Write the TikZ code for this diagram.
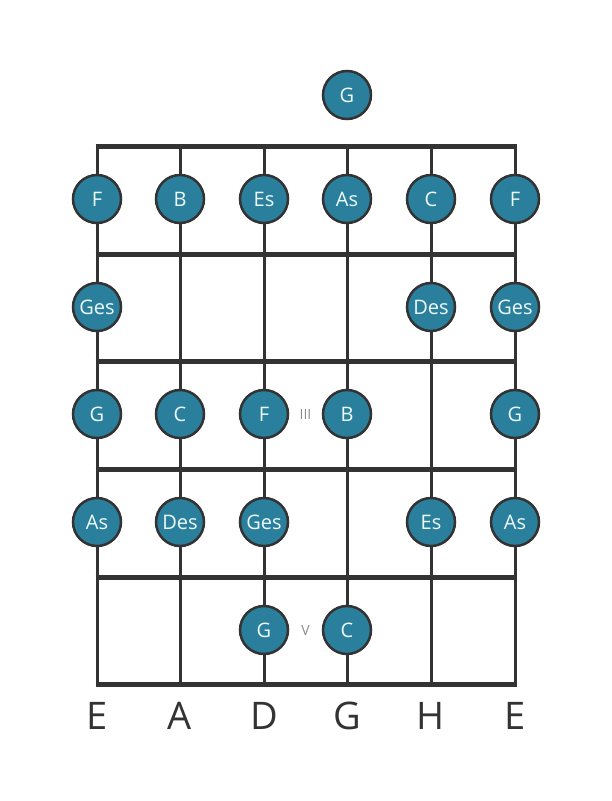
\documentclass[tikz,border=0pt]{standalone}
\usepackage{fontspec}
\setmainfont{Open Sans}
\definecolor{dotc}{HTML}{2A809C}
\definecolor{linec}{HTML}{333333}
\definecolor{notetext}{HTML}{EEFAFC}
\begin{document}
\begin{tikzpicture}[x=1pt,y=-1pt,
  note/.style={circle,draw=linec,line width=2.5pt,fill=dotc,minimum size=48pt,inner sep=0pt,text=notetext,font=\fontsize{20}{20}\selectfont},
  fretl/.style={draw=linec,line width=5pt},
  strl/.style={draw=linec,line width=3pt},
  strname/.style={text=linec,font=\fontsize{38}{38}\selectfont,inner sep=0pt},
  fingerl/.style={text=gray!90,font=\fontsize{14}{14}\selectfont,inner sep=0pt}]
\useasboundingbox (0,0) rectangle (611,801);
% strings
\foreach \x/\n in {97/1,180/2,264/3,347/4,431/5,515/6}{
  \coordinate (st\n) at (\x,146);
  \coordinate (sb\n) at (\x,684);
  \draw[strl] (st\n) -- (sb\n);
}
% frets
\foreach \y/\n in {146/0,254/1,361/2,469/3,577/4,684/5}{
  \coordinate (fl\n) at (95.5,\y);
  \coordinate (fr\n) at (516.5,\y);
  \draw[fretl] (fl\n) -- (fr\n);
}
% open string
\node[note] (o4) at (347,95) {G};
% fret 1
\node[note] (a1) at (97,199) {F};
\node[note] (a2) at (180,199) {B};
\node[note] (a3) at (264,199) {Es};
\node[note] (a4) at (347,199) {As};
\node[note] (a5) at (431,199) {C};
\node[note] (a6) at (515,199) {F};
% fret 2
\node[note] (b1) at (97,307) {Ges};
\node[note] (b5) at (431,307) {Des};
\node[note] (b6) at (515,307) {Ges};
% fret 3
\node[note] (c1) at (97,414) {G};
\node[note] (c2) at (180,414) {C};
\node[note] (c3) at (264,414) {F};
\node[note] (c4) at (347,414) {B};
\node[note] (c6) at (515,414) {G};
\node[fingerl] (m3) at (305.5,414) {III};
% fret 4
\node[note] (d1) at (97,522) {As};
\node[note] (d2) at (180,522) {Des};
\node[note] (d3) at (264,522) {Ges};
\node[note] (d5) at (431,522) {Es};
\node[note] (d6) at (515,522) {As};
% fret 5
\node[note] (e3) at (264,630) {G};
\node[note] (e4) at (347,630) {C};
\node[fingerl] (m5) at (305.5,630) {V};
% string names
\foreach \x/\t in {97/E,180/A,264/D,347/G,431/H,515/E}{
  \node[strname] (n\t\x) at (\x,716) {\t};
}
\end{tikzpicture}
\end{document}
